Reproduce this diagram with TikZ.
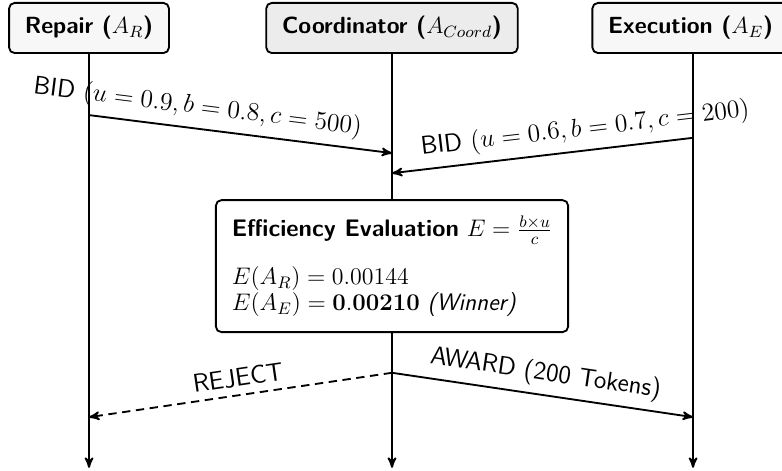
\RequirePackage{fix-cm}
\documentclass[tikz,border=0pt,12pt]{standalone}
\usepackage{tikz}
\usetikzlibrary{positioning,calc,arrows}
\tikzset{
  agent/.style  = {draw, line width=1pt, rounded corners=3pt,
                   font=\sffamily\bfseries\fontsize{12.6}{15}\selectfont,
                   minimum height=0.95cm, inner xsep=8.5pt, fill=gray!6},
  coord/.style  = {agent, fill=gray!15},
  life/.style   = {->, >=stealth', line width=1pt},
  msg/.style    = {->, >=stealth', line width=1pt},
  reply/.style  = {msg, dash pattern=on 4.5pt off 3pt},
  lbl/.style    = {above, sloped, font=\sffamily\fontsize{13.8}{16}\selectfont},
  evalbox/.style = {draw, line width=1pt, rounded corners=3pt, fill=white, align=left,
                   font=\sffamily\fontsize{12.9}{12.5}\selectfont,
                   inner xsep=8.6pt, inner ysep=8pt}
}
\begin{document}
\begin{tikzpicture}
  \useasboundingbox (0,0) rectangle (14.81,-8.92);
  % agents
  \node[agent] (repair) at (1.686,-0.53) {Repair ($A_R$)};
  \node[coord] (coordinator) at (7.424,-0.53) {Coordinator ($A_{Coord}$)};
  \node[agent] (exec) at (13.08,-0.53) {Execution ($A_E$)};

  % lifelines
  \coordinate (repair end) at (repair |- 0,-8.86);
  \coordinate (coord end) at (coordinator |- 0,-8.86);
  \coordinate (exec end) at (13.125,-8.86);
  \draw[life] (repair) -- (repair end);
  \draw[life] (coordinator) -- (coord end);
  \draw[life] (exec.south -| exec end) -- (exec end);

  % bids
  \coordinate (bidR) at (repair |- 0,-2.18);
  \coordinate (bidRin) at (coordinator |- 0,-2.90);
  \coordinate (bidE) at (exec end |- 0,-2.61);
  \coordinate (bidEin) at (coordinator |- 0,-3.28);
  \draw[msg] (bidR) -- node[lbl, pos=0.35]
    {BID $(u=0.9, b=0.8, c=500)$} (bidRin);
  \draw[msg] (bidE) -- node[lbl, pos=0.35]
    {BID $(u=0.6, b=0.7, c=200)$} (bidEin);

  % evaluation
  \node[evalbox, minimum height=2.5cm] (eval) at (7.424,-5.04)
    {\textbf{Efficiency Evaluation} $E=\frac{b\times u}{c}$\\[11pt]
     $E(A_R)=0.00144$\\
     $E(A_E)=\mathbf{0.00210}$ \textit{(Winner)}};

  % decision
  \coordinate (decide) at (coordinator |- 0,-7.06);
  \coordinate (rejR) at (repair |- 0,-7.90);
  \coordinate (awdE) at (exec end |- 0,-7.90);
  \draw[reply] (decide) -- node[lbl] {REJECT} (rejR);
  \draw[msg] (decide) -- node[lbl] {AWARD (200 Tokens)} (awdE);
\end{tikzpicture}
\end{document}
